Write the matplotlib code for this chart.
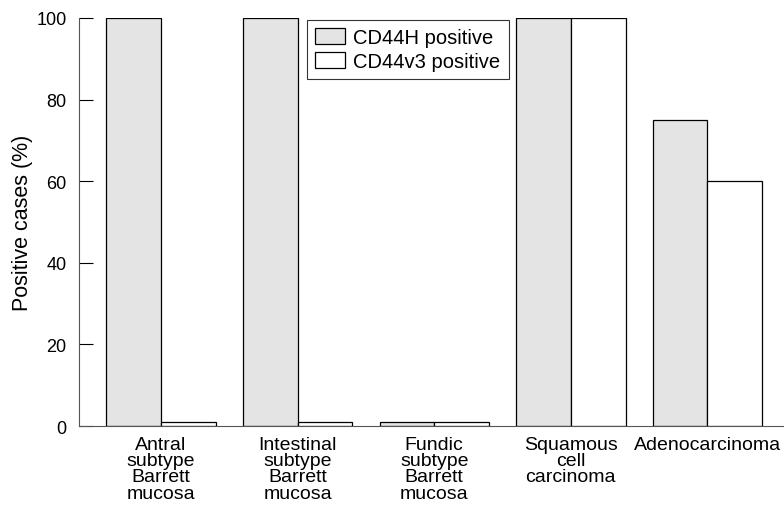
import numpy as np
import matplotlib
matplotlib.use("Agg")
import matplotlib.pyplot as plt

# data
categories = ["Antral\nsubtype\nBarrett\nmucosa",
              "Intestinal\nsubtype\nBarrett\nmucosa",
              "Fundic\nsubtype\nBarrett\nmucosa",
              "Squamous\ncell\ncarcinoma",
              "Adenocarcinoma"]
cd44h = [100, 100, 1, 100, 75]
cd44v3 = [1, 1, 1, 100, 60]
yticks = [0, 20, 40, 60, 80, 100]

plt.rcParams['font.family'] = ['Liberation Sans', 'DejaVu Sans']

fig = plt.figure(figsize=(7.84, 5.06), dpi=100)
ax = fig.add_axes([0.1008, 0.156, 0.8992, 0.8065])

x = np.arange(len(categories))
w = 0.4
ax.bar(x - w / 2, cd44h, width=w, color="#e4e4e4", edgecolor="black",
       linewidth=0.9, label="CD44H positive")
ax.bar(x + w / 2, cd44v3, width=w, color="white", edgecolor="black",
       linewidth=0.9, label="CD44v3 positive")

ax.set_xlim(-0.6, 4.56)
ax.set_ylim(0, 100)
ax.set_yticks(yticks)
ax.set_xticks(x)
ax.set_xticklabels(categories, fontsize=14, linespacing=0.95)
ax.tick_params(axis="x", length=0, pad=7)
ax.tick_params(axis="y", direction="in", length=10, labelsize=13, pad=9)
ax.set_ylabel("Positive cases (%)", fontsize=15.5, labelpad=2)

for s in ["top", "right"]:
    ax.spines[s].set_visible(False)
ax.spines["left"].set_color("#555555")
ax.spines["bottom"].set_color("#555555")

leg = ax.legend(loc="upper left", bbox_to_anchor=(0.3235, 0.995), fontsize=14.5,
                frameon=True, fancybox=False, edgecolor="black",
                handlelength=1.5, handleheight=0.83, borderpad=0.4,
                labelspacing=0.25, handletextpad=0.4, borderaxespad=0.0)
leg.get_frame().set_linewidth(0.8)

fig.savefig("out.png", dpi=100)
